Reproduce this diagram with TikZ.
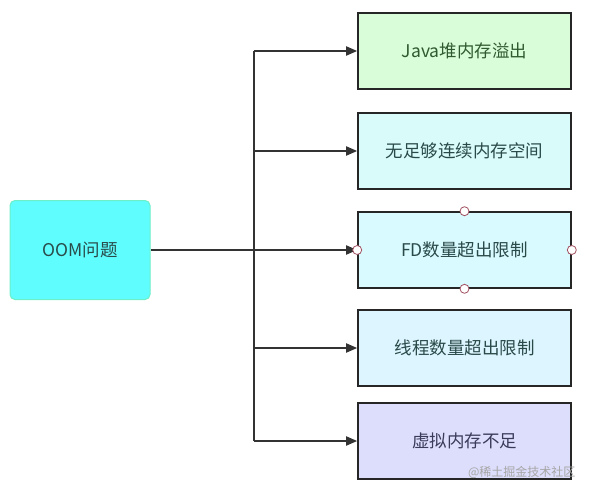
\documentclass[tikz,border=0pt]{standalone}
\usepackage{fontspec}
\newfontfamily\cjk{Noto Sans CJK SC}
\usetikzlibrary{arrows.meta}
\definecolor{oomfill}{HTML}{5FFDFD}
\definecolor{oomline}{HTML}{6CEFC8}
\definecolor{fa}{HTML}{D9FCD9}
\definecolor{fb}{HTML}{D9FCFA}
\definecolor{fc}{HTML}{D9FAFE}
\definecolor{fd}{HTML}{DDF5FE}
\definecolor{fe}{HTML}{DDDDFC}
\definecolor{ta}{HTML}{2F5A2F}
\definecolor{tb}{HTML}{2A4A4A}
\definecolor{te}{HTML}{3A3A5A}
\definecolor{ln}{HTML}{333333}
\definecolor{hnd}{HTML}{A05060}
\begin{document}
\begin{tikzpicture}[x=1pt,y=-1pt,
  every node/.style={font=\cjk\fontsize{17.5}{20}\selectfont},
  leaf/.style={draw=black!85,line width=1.6pt,minimum width=213pt,minimum height=76pt,inner sep=0pt},
  conn/.style={draw=ln,line width=1.8pt},
  arr/.style={conn,-{Triangle[length=11pt,width=9pt]}},
  handle/.style={circle,draw=hnd,fill=white,line width=0.8pt,minimum size=9pt,inner sep=0pt}]
\useasboundingbox (0,0) rectangle (592,495);
\node[rounded corners=5pt,fill=oomfill,draw=oomline,line width=1pt,minimum width=140pt,minimum height=99pt,text=tb] (oom) at (80,250) {OOM问题};
\node[leaf,fill=fa,text=ta] (a) at (464.5,51) {Java堆内存溢出};
\node[leaf,fill=fb,text=tb] (b) at (464.5,151) {无足够连续内存空间};
\node[leaf,fill=fc,text=tb] (c) at (464.5,250) {FD数量超出限制};
\node[leaf,fill=fd,text=tb] (d) at (464.5,348) {线程数量超出限制};
\node[leaf,fill=fe,text=te] (e) at (464.5,441) {虚拟内存不足};
\coordinate (j) at (254,250);
\coordinate (ja) at (254,51);
\coordinate (je) at (254,441);
\draw[conn] (oom.east) -- (j);
\draw[conn] (ja) -- (je);
\draw[arr] (ja) -- (a.west);
\draw[arr] (254,151) -- (b.west);
\draw[arr] (j) -- (c.west);
\draw[arr] (254,348) -- (d.west);
\draw[arr] (je) -- (e.west);
\node[handle] (h1) at (c.north) {};
\node[handle] (h2) at (c.south) {};
\node[handle] (h3) at (c.west) {};
\node[handle] (h4) at (c.east) {};
\node[text=black!35,font=\cjk\fontsize{12}{14}\selectfont,anchor=east] (wm) at (579,472) {@稀土掘金技术社区};
\end{tikzpicture}
\end{document}
